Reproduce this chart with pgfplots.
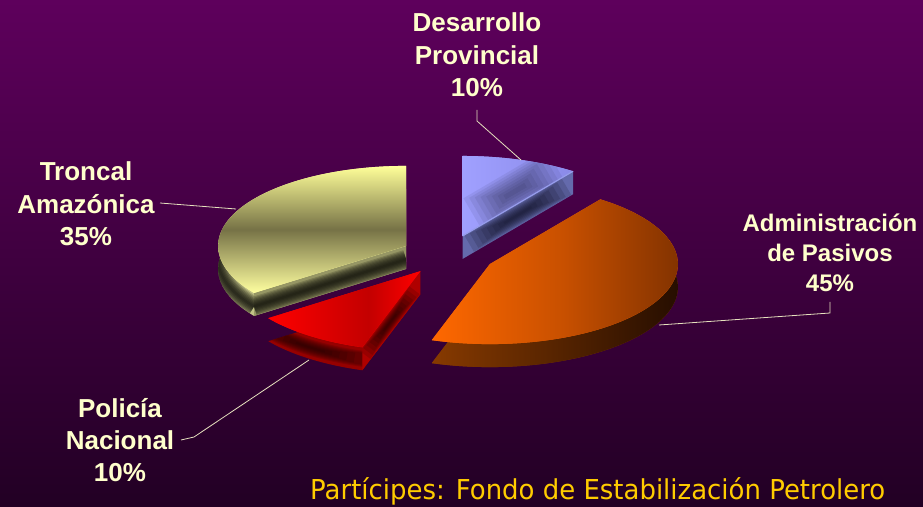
\documentclass[border=0pt]{standalone}
\usepackage{pgfplots}
\pgfplotsset{compat=1.18}
\usetikzlibrary{calc}
\usepackage{graphicx}
\usepackage{fontspec}
\setmainfont{Liberation Sans}
\newfontfamily\tahoma{DejaVu Sans}
\definecolor{bgtop}{RGB}{94,0,92}
\definecolor{bgbot}{RGB}{34,0,36}
\definecolor{lbl}{RGB}{255,255,204}
\definecolor{lead}{RGB}{230,225,190}
\definecolor{gold}{RGB}{255,204,0}
% Desarrollo
\definecolor{dT1}{RGB}{160,160,255}
\definecolor{dT2}{RGB}{138,138,232}
\definecolor{dDk}{RGB}{18,18,40}
\definecolor{dC}{RGB}{100,106,172}
\definecolor{dHi}{RGB}{150,156,235}
% Administracion
\definecolor{aT1}{RGB}{255,104,0}
\definecolor{aT2}{RGB}{200,80,0}
\definecolor{aT3}{RGB}{122,47,0}
\definecolor{aW1}{RGB}{135,58,0}
\definecolor{aW2}{RGB}{32,11,0}
% Policia
\definecolor{pT1}{RGB}{255,0,0}
\definecolor{pT2}{RGB}{195,0,0}
\definecolor{pW}{RGB}{150,0,0}
\definecolor{pC}{RGB}{175,0,0}
\definecolor{pDk}{RGB}{25,0,0}
% Troncal
\definecolor{tT1}{RGB}{255,255,153}
\definecolor{tT2}{RGB}{118,114,70}
\definecolor{tT3}{RGB}{255,255,160}
\definecolor{tW}{RGB}{195,195,135}
\definecolor{tC}{RGB}{150,150,100}
\definecolor{tDk}{RGB}{16,16,10}
\pgfdeclareverticalshading{tTop}{100bp}{color(0bp)=(tT3); color(25bp)=(tT3); color(50bp)=(tT2); color(75bp)=(tT1); color(100bp)=(tT1)}
\pgfdeclarehorizontalshading{pTop}{100bp}{color(0bp)=(pT1); color(25bp)=(pT1); color(58bp)=(pT2); color(75bp)=(pT1); color(100bp)=(pT1)}
\pgfdeclarehorizontalshading{dTop}{100bp}{color(0bp)=(dT1); color(25bp)=(dT1); color(75bp)=(dT2); color(100bp)=(dT2)}
\pgfdeclarehorizontalshading{aTop}{100bp}{color(0bp)=(aT1); color(25bp)=(aT1); color(50bp)=(aT2); color(75bp)=(aT3); color(100bp)=(aT3)}
\pgfdeclarehorizontalshading{aWall}{100bp}{color(0bp)=(aW1); color(25bp)=(aW1); color(75bp)=(aW2); color(100bp)=(aW2)}
\begin{document}
\begin{tikzpicture}
% data (percent)
\def\vD{10}\def\vA{45}\def\vP{10}\def\vT{35}
% geometry
\pgfmathsetmacro\cx{448}\pgfmathsetmacro\cy{251}
\pgfmathsetmacro\rx{188}\pgfmathsetmacro\ry{80}
\pgfmathsetmacro\hh{23}\pgfmathsetmacro\ex{0.25}
\pgfmathsetmacro\aD{90}
\pgfmathsetmacro\aA{\aD-3.6*\vD}
\pgfmathsetmacro\aP{\aA-3.6*\vA}
\pgfmathsetmacro\aT{\aP-3.6*\vP}
\pgfmathsetmacro\aE{\aT-3.6*\vT}
% apexes
\pgfmathsetmacro\xD{\cx+\ex*\rx*cos((\aD+\aA)/2)}
\pgfmathsetmacro\yD{\cy+\ex*\ry*sin((\aD+\aA)/2)}
\pgfmathsetmacro\xA{\cx+\ex*\rx*cos((\aA+\aP)/2)}
\pgfmathsetmacro\yA{\cy+\ex*\ry*sin((\aA+\aP)/2)}
\pgfmathsetmacro\xP{\cx+\ex*\rx*cos((\aP+\aT)/2)}
\pgfmathsetmacro\yP{\cy+\ex*\ry*sin((\aP+\aT)/2)}
\pgfmathsetmacro\xT{\cx+\ex*\rx*cos((\aT+\aE)/2)}
\pgfmathsetmacro\yT{\cy+\ex*\ry*sin((\aT+\aE)/2)}
\pgfmathsetmacro\yDb{\yD-\hh}\pgfmathsetmacro\yDm{\yD-\hh/2}\pgfmathsetmacro\yDu{\yD+14}
\pgfmathsetmacro\yAb{\yA-\hh}
\pgfmathsetmacro\yPb{\yP-\hh}\pgfmathsetmacro\yPm{\yP-\hh/2}
\pgfmathsetmacro\yTb{\yT-\hh}\pgfmathsetmacro\yTm{\yT-\hh/2-2}
% rim points of visible cut faces
\pgfmathsetmacro\rDx{\xD+\rx*cos(\aA)}\pgfmathsetmacro\rDy{\yD+\ry*sin(\aA)}
\pgfmathsetmacro\rDyb{\rDy-\hh}\pgfmathsetmacro\rDym{\rDy-\hh/2}\pgfmathsetmacro\rDyu{\rDy+14}
\pgfmathsetmacro\rPx{\xP+\rx*cos(\aP)}\pgfmathsetmacro\rPy{\yP+\ry*sin(\aP)}
\pgfmathsetmacro\rPyb{\rPy-\hh}\pgfmathsetmacro\rPym{\rPy-\hh/2}
\pgfmathsetmacro\rTx{\xT+\rx*cos(\aT)}\pgfmathsetmacro\rTy{\yT+\ry*sin(\aT)}
\pgfmathsetmacro\rTyb{\rTy-\hh}\pgfmathsetmacro\rTym{\rTy-\hh/2-2}
% start points of rims (for shading / clipping paths)
\pgfmathsetmacro\sPx{\xP+\rx*cos(\aT)}\pgfmathsetmacro\sPy{\yP+\ry*sin(\aT)}\pgfmathsetmacro\sPyb{\sPy-\hh}
\pgfmathsetmacro\sTx{\xT+\rx*cos(\aE)}\pgfmathsetmacro\sTy{\yT+\ry*sin(\aE)}\pgfmathsetmacro\sTyb{\sTy-\hh}
\pgfmathsetmacro\sAx{\xA+\rx*cos(\aP)}\pgfmathsetmacro\sAy{\yA+\ry*sin(\aP)}\pgfmathsetmacro\sAyb{\sAy-\hh}
\begin{axis}[hide axis, scale only axis, width=923pt, height=506pt,
  xmin=0, xmax=923, ymin=0, ymax=506, enlargelimits=false, clip=false]
% background
\path[top color=bgtop, bottom color=bgbot] (axis cs:0,0) rectangle (axis cs:923,506);
% ================= Desarrollo Provincial (10%)
\path[fill=dC] (\xD,\yD) -- (\rDx,\rDy) -- (\rDx,\rDyb) -- (\xD,\yDb) -- cycle;
\begin{scope}
\clip (\xD,\yD) -- (\rDx,\rDy) -- (\rDx,\rDyb) -- (\xD,\yDb) -- cycle;
\pgfplotsinvokeforeach{1,...,8}{
  \draw[dDk, opacity=0.17, line width=2.4*#1pt]
    ($(\xD,\yDm)!{0.06+0.045*(8-#1)}!(\rDx,\rDym)$) -- ($(\xD,\yDm)!{0.94-0.045*(8-#1)}!(\rDx,\rDym)$);
}
\end{scope}
\addplot[draw=none, fill=dT1, domain=\aA:\aD, samples=40, variable=\t]
  ({\xD+\rx*cos(\t)},{\yD+\ry*sin(\t)}) -- (\xD,\yD) -- cycle;
\path[shading=dTop] (\xD,\yD) -- (\rDx,\rDy) arc[start angle=\aA, end angle=\aD, x radius=\rx pt, y radius=\ry pt] -- cycle;
\begin{scope}
\clip (\xD,\yD) -- (\rDx,\rDy) arc[start angle=\aA, end angle=\aD, x radius=\rx pt, y radius=\ry pt] -- cycle;
\pgfplotsinvokeforeach{1,...,8}{
  \draw[dDk, opacity=0.075, line width=5*#1pt]
    ($(\xD,\yDu)!{0.10+0.04*(8-#1)}!(\rDx,\rDyu)$) -- ($(\xD,\yDu)!{0.85-0.04*(8-#1)}!(\rDx,\rDyu)$);
}
\end{scope}
\draw[dHi, line width=1.2pt] (\xD,\yD) -- (\rDx,\rDy);
% ================= Troncal Amazonica (35%)
\addplot[draw=none, fill=tW, domain=\aE:\aT, samples=80, variable=\t]
  ({\xT+\rx*cos(\t)},{\yTb+\ry*sin(\t)}) -- (\xT,\yTb) -- cycle;
\begin{scope}
\clip (\xT,\yTb) -- (\sTx,\sTyb) arc[start angle=\aE, end angle=\aT, x radius=\rx pt, y radius=\ry pt] -- cycle;
\pgfplotsinvokeforeach{1,...,8}{
  \addplot[tDk, opacity=0.2, line width=2.4*#1pt, domain=-182:\aT, samples=30, variable=\t]
    ({\xT+\rx*cos(\t)},{\yTm+\ry*sin(\t)});
}
\end{scope}
\path[fill=tC] (\xT,\yT) -- (\rTx,\rTy) -- (\rTx,\rTyb) -- (\xT,\yTb) -- cycle;
\begin{scope}
\clip (\xT,\yT) -- (\rTx,\rTy) -- (\rTx,\rTyb) -- (\xT,\yTb) -- cycle;
\pgfplotsinvokeforeach{1,...,8}{
  \draw[tDk, opacity=0.2, line width=2.4*#1pt] (\xT,\yTm) -- (\rTx,\rTym);
}
\end{scope}
\addplot[draw=none, fill=tT1, domain=\aE:\aT, samples=80, variable=\t]
  ({\xT+\rx*cos(\t)},{\yT+\ry*sin(\t)}) -- (\xT,\yT) -- cycle;
\path[shading=tTop] (\xT,\yT) -- (\sTx,\sTy) arc[start angle=\aE, end angle=\aT, x radius=\rx pt, y radius=\ry pt] -- cycle;
% ================= Administracion de Pasivos (45%)
\addplot[draw=none, fill=aW1, domain=\aP:\aA, samples=100, variable=\t]
  ({\xA+\rx*cos(\t)},{\yAb+\ry*sin(\t)}) -- (\xA,\yAb) -- cycle;
\path[shading=aWall] (\xA,\yAb) -- (\sAx,\sAyb) arc[start angle=\aP, end angle=\aA, x radius=\rx pt, y radius=\ry pt] -- cycle;
\addplot[draw=none, fill=aT1, domain=\aP:\aA, samples=100, variable=\t]
  ({\xA+\rx*cos(\t)},{\yA+\ry*sin(\t)}) -- (\xA,\yA) -- cycle;
\path[shading=aTop] (\xA,\yA) -- (\sAx,\sAy) arc[start angle=\aP, end angle=\aA, x radius=\rx pt, y radius=\ry pt] -- cycle;
% ================= Policia Nacional (10%)
\addplot[draw=none, fill=pW, domain=\aT:\aP, samples=40, variable=\t]
  ({\xP+\rx*cos(\t)},{\yPb+\ry*sin(\t)}) -- (\xP,\yPb) -- cycle;
\begin{scope}
\clip (\xP,\yPb) -- (\sPx,\sPyb) arc[start angle=\aT, end angle=\aP, x radius=\rx pt, y radius=\ry pt] -- cycle;
\pgfplotsinvokeforeach{1,...,8}{
  \addplot[pDk, opacity=0.15, line width=2*#1pt, domain=-129-2.5*#1:-123+2.5*#1, samples=30, variable=\t]
    ({\xP+\rx*cos(\t)},{\yPm+\ry*sin(\t)});
}
\end{scope}
\path[fill=pC] (\xP,\yP) -- (\rPx,\rPy) -- (\rPx,\rPyb) -- (\xP,\yPb) -- cycle;
\begin{scope}
\clip (\xP,\yP) -- (\rPx,\rPy) -- (\rPx,\rPyb) -- (\xP,\yPb) -- cycle;
\pgfplotsinvokeforeach{1,...,8}{
  \draw[pDk, opacity=0.15, line width=1.6*#1pt]
    ($(\xP,\yPm)!{0.10+0.045*(8-#1)}!(\rPx,\rPym)$) -- ($(\xP,\yPm)!{0.95-0.045*(8-#1)}!(\rPx,\rPym)$);
}
\end{scope}
\addplot[draw=none, fill=pT1, domain=\aT:\aP, samples=40, variable=\t]
  ({\xP+\rx*cos(\t)},{\yP+\ry*sin(\t)}) -- (\xP,\yP) -- cycle;
\path[shading=pTop] (\xP,\yP) -- (\sPx,\sPy) arc[start angle=\aT, end angle=\aP, x radius=\rx pt, y radius=\ry pt] -- cycle;
% ================= leader lines
\draw[lead, line width=0.8pt] (axis cs:477,396) -- (axis cs:477,385) -- (axis cs:521,346);
\draw[lead, line width=0.8pt] (axis cs:160,303) -- (axis cs:236,297);
\draw[lead, line width=0.8pt] (axis cs:830,204) -- (axis cs:830,193) -- (axis cs:659,181);
\draw[lead, line width=0.8pt] (axis cs:181,66) -- (axis cs:194,69) -- (axis cs:309,146);
% ================= labels
\node[align=center, text=lbl, font=\bfseries\fontsize{26}{32.5}\selectfont] at (axis cs:477,451) {Desarrollo\\Provincial\\10\%};
\node[align=center, text=lbl, font=\bfseries\fontsize{26}{32.5}\selectfont] at (axis cs:86,302) {Troncal\\Amazónica\\35\%};
\node[align=center, text=lbl, font=\bfseries\fontsize{24}{30}\selectfont] at (axis cs:830,253) {Administración\\de Pasivos\\45\%};
\node[align=center, text=lbl, font=\bfseries\fontsize{26}{32}\selectfont] at (axis cs:120,66) {Policía\\Nacional\\10\%};
\node[anchor=base west, inner sep=0pt, text=gold] at (axis cs:310,7)
  {\resizebox{575pt}{\height}{\tahoma\fontsize{27.4}{30}\selectfont Partícipes: Fondo de Estabilización Petrolero}};
\end{axis}
\end{tikzpicture}
\end{document}
